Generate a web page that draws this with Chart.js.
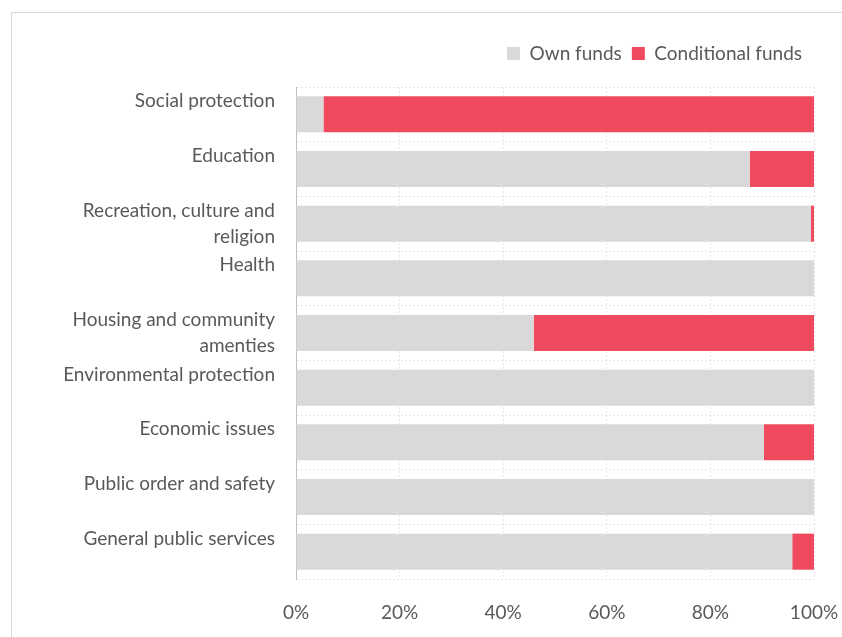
<!DOCTYPE html>
<html>
<head>
<meta charset="utf-8">
<script src="https://cdn.jsdelivr.net/npm/chart.js@4/dist/chart.umd.min.js"></script>
<style>
  html, body { margin: 0; padding: 0; background: #fff; overflow: hidden; }
  #frame { position: absolute; left: 11px; top: 12px; width: 900px; height: 700px; border-left: 1px solid #d9d9d9; border-top: 1px solid #d9d9d9; }
  #chart { position: absolute; left: 0; top: 0; }
</style>
</head>
<body>
<div id="frame"></div>
<canvas id="chart" width="842" height="637"></canvas>
<script>
// categories, top to bottom
const categories = [
    ['Social protection', ''],
    ['Education', ''],
    ['Recreation, culture and', 'religion'],
    ['Health', ''],
    ['Housing and community', 'amenties'],
    ['Environmental protection', ''],
    ['Economic issues', ''],
    ['Public order and safety', ''],
    ['General public services', '']
];

// share of spending, %
const ownFunds = [5.3, 87.6, 99.4, 100, 45.9, 100, 90.3, 100, 95.8];
const conditionalFunds = [94.7, 12.4, 0.6, 0, 54.1, 0, 9.7, 0, 4.2];

const tickValues = [0, 20, 40, 60, 80, 100];

const textColor = '#595959';
const fontFamily = 'Lato, "Open Sans", sans-serif';
const fontSize = 19;

// extra room under the legend, and pull it in from the right edge
const legendGap = {
    id: 'legendGap',
    beforeInit(chart) {
        const fit = chart.legend.fit;
        chart.legend.fit = function () {
            fit.bind(chart.legend)();
            this.height += 14;
        };
    },
    afterLayout(chart) {
        chart.legend.right -= 2;
    },
};

const data = {
    labels: categories,
    datasets: [
        {
            label: 'Own funds',
            data: ownFunds,
            backgroundColor: '#d9d9d9',
            barPercentage: 0.66,
            categoryPercentage: 1,
        },
        {
            label: 'Conditional funds',
            data: conditionalFunds,
            backgroundColor: '#f04a5e',
            barPercentage: 0.66,
            categoryPercentage: 1,
        },
    ],
};

const config = {
    type: 'bar',
    data: data,
    plugins: [legendGap],
    options: {
        indexAxis: 'y',
        responsive: false,
        animation: false,
        layout: {
            padding: { left: 0, right: 28, top: 34, bottom: 13 }
        },
        plugins: {
            legend: {
                position: 'top',
                align: 'end',
                labels: {
                    boxWidth: 13,
                    boxHeight: 13,
                    color: textColor,
                    font: { family: fontFamily, size: fontSize },
                    padding: 10,
                },
            },
            tooltip: { enabled: false },
        },
        scales: {
            x: {
                stacked: true,
                min: 0,
                max: 100,
                afterBuildTicks: (scale) => {
                    scale.ticks = tickValues.map(v => ({ value: v }));
                },
                afterFit: (scale) => {
                    scale.paddingLeft = 0;
                    scale.paddingRight = 0;
                    scale.height = 45;
                },
                ticks: {
                    color: textColor,
                    font: { family: fontFamily, size: fontSize },
                    padding: 22,
                    callback: (v) => v + '%',
                },
                grid: {
                    color: '#e6e6e6',
                    drawTicks: false,
                },
                border: { display: false, dash: [2, 2] },
            },
            y: {
                stacked: true,
                afterFit: (scale) => {
                    scale.width = 296;
                    scale.paddingTop = 0;
                    scale.paddingBottom = 0;
                },
                ticks: {
                    autoSkip: false,
                    color: textColor,
                    font: { family: fontFamily, size: fontSize, lineHeight: 26 / fontSize },
                    padding: 21,
                },
                grid: {
                    color: '#e6e6e6',
                    drawTicks: false,
                    offset: true,
                },
                border: { display: true, color: '#bfbfbf', dash: [2, 2] },
            },
        },
    },
};

const myChart = new Chart(document.getElementById('chart'), config);
</script>
</body>
</html>
